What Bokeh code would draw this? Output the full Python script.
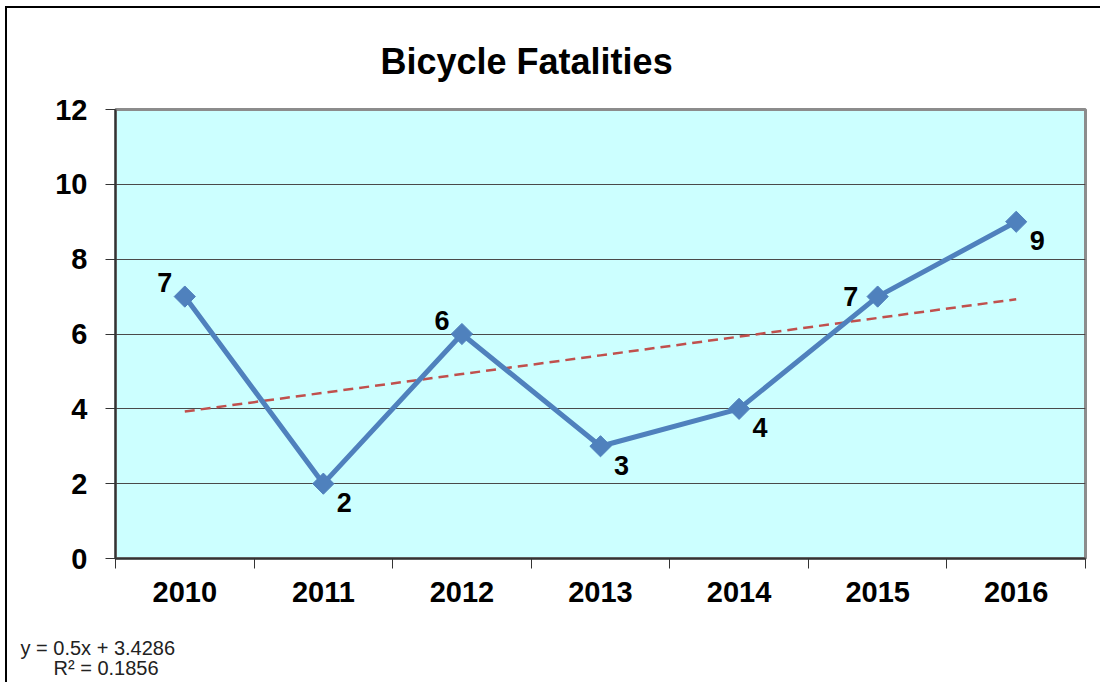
import numpy as np
from bokeh.plotting import figure
from bokeh.models import (Range1d, LinearAxis, FixedTicker, ColumnDataSource, Title)
from bokeh.layouts import column
from bokeh.core.properties import value
from bokeh.embed import file_html
from bokeh.resources import INLINE

# ---- data ----
years = ["2010", "2011", "2012", "2013", "2014", "2015", "2016"]
fatalities = [7, 2, 6, 3, 4, 7, 9]
label_place = ["above_left", "below_right", "above_left", "below_right",
               "below_right", "left", "below_right"]
trend_slope = 0.5
trend_intercept = 3.4286
trend_r2 = 0.1856
y_ticks = [0, 2, 4, 6, 8, 10, 12]
title_text = "Bicycle Fatalities"

FONT = "Liberation Sans"
BLUE = "#4F81BD"
RED = "#C0504D"

offsets = {"above_left": (-20, -14), "below_right": (21, 19), "left": (-27, 0)}

n = len(years)
xpos = np.arange(n) + 0.5          # category centres on a 0..n scale

p = figure(x_range=Range1d(0, n), y_range=Range1d(0, 12),
           frame_width=970, frame_height=449,
           min_border_left=108, min_border_right=15, min_border_top=101, min_border_bottom=124,
           output_backend="svg", toolbar_location=None, x_axis_location=None,
           background_fill_color="#CCFFFF", border_fill_color="white")
p.outline_line_color = "#8C8C8C"
p.outline_line_width = 3

# title
p.title.text = title_text
p.title.align = "left"
p.title.offset = 265
p.title.standoff = 56
p.title.text_font = FONT
p.title.text_font_style = "bold"
p.title.text_font_size = "36px"
p.title.text_color = "black"

# y axis
p.yaxis.ticker = FixedTicker(ticks=y_ticks)
p.yaxis.axis_line_color = "#333333"
p.yaxis.axis_line_width = 2
p.yaxis.major_tick_line_color = "#333333"
p.yaxis.major_tick_out = 10
p.yaxis.major_tick_in = 0
p.yaxis.minor_tick_line_color = None
p.yaxis.major_label_text_font = FONT
p.yaxis.major_label_text_font_style = "bold"
p.yaxis.major_label_text_font_size = "29px"
p.yaxis.major_label_text_color = "black"
p.yaxis.major_label_standoff = 18

p.xgrid.grid_line_color = None
p.ygrid.ticker = FixedTicker(ticks=y_ticks)
p.ygrid.grid_line_color = "#4A4A4A"
p.ygrid.grid_line_width = 1.2

# x axis: boundary ticks + category labels
bounds = list(range(n + 1))
tick_axis = LinearAxis(ticker=FixedTicker(ticks=bounds),
                       major_label_text_font_size="0px", major_label_standoff=0,
                       major_label_overrides={b: "" for b in bounds},
                       axis_line_color="#333333", axis_line_width=2,
                       major_tick_line_color="#333333", major_tick_out=10, major_tick_in=0,
                       minor_tick_line_color=None)
p.add_layout(tick_axis, "below")
cat_axis = LinearAxis(ticker=FixedTicker(ticks=list(xpos)),
                      major_label_overrides={float(x): y for x, y in zip(xpos, years)},
                      axis_line_color=None, major_tick_line_color=None,
                      minor_tick_line_color=None, major_tick_out=0, major_tick_in=0,
                      major_label_text_font=FONT, major_label_text_font_style="bold",
                      major_label_text_font_size="29px", major_label_text_color="black",
                      major_label_standoff=13,
                      axis_label=" ", axis_label_text_font_size="10px",
                      axis_label_standoff=16)
p.add_layout(cat_axis, "below")

# trendline equation (below the axis, left side)
eq1 = Title(text=f"y = {trend_slope}x + {trend_intercept}", align="left", offset=-95,
            standoff=0, text_font=FONT, text_font_style="normal", text_font_size="20px",
            text_color="#222222")
eq2 = Title(text=f"R² = {trend_r2}", align="left", offset=-62, standoff=-8,
            text_font=FONT, text_font_style="normal", text_font_size="20px",
            text_color="#222222")
p.add_layout(eq1, "below")
p.add_layout(eq2, "below")

# trend line
trend_vals = trend_slope * (np.arange(n) + 1) + trend_intercept
p.line(xpos, trend_vals, line_color=RED, line_width=2.5, line_dash="10 6")

# data line + markers
src = ColumnDataSource(dict(
    x=xpos, y=fatalities, txt=[str(v) for v in fatalities],
    xo=[offsets[k][0] for k in label_place], yo=[offsets[k][1] for k in label_place]))
p.line("x", "y", source=src, line_color=BLUE, line_width=5)
p.scatter("x", "y", source=src, marker="square", angle=np.pi / 4, size=15,
          fill_color=BLUE, line_color=BLUE)
p.text("x", "y", text="txt", source=src, x_offset="xo", y_offset="yo",
       text_font=value(FONT), text_font_style="bold", text_font_size="27px",
       text_align="center", text_baseline="middle", text_color="black")

layout = column(p, styles={"border-left": "2px solid black", "border-top": "2px solid black",
                           "margin-left": "5px", "margin-top": "6px"})

open("out.html", "w").write(file_html(layout, INLINE))
